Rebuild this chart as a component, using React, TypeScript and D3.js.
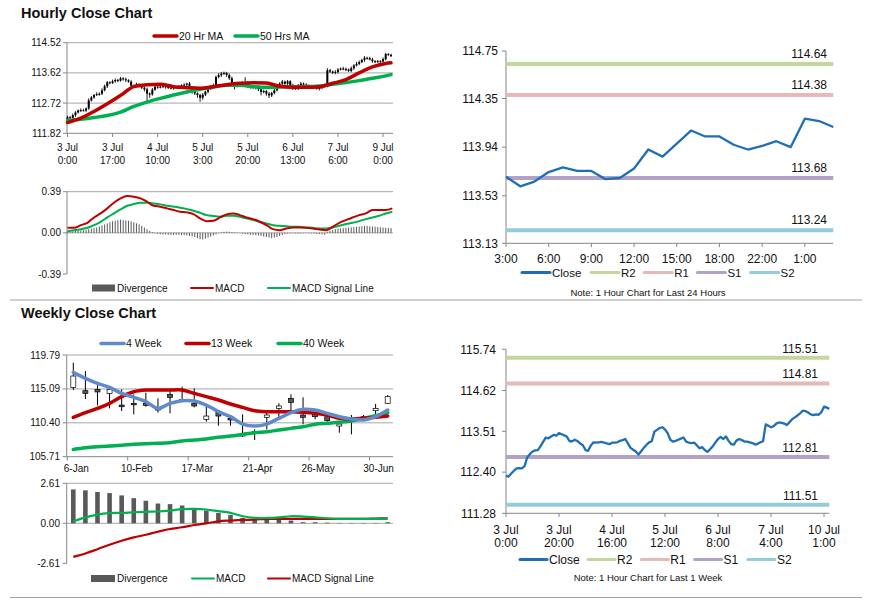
import React from 'react';
import * as d3 from 'd3';

const FONT = '"Liberation Sans", Arial, sans-serif';

// ---------- Hourly data (3 Jul 0:00 .. ) ----------
const hourlyFirstOpen = 112.24;
const hourlyClose = [
  112.30, 112.28, 112.36, 112.44, 112.50, 112.51, 112.50, 112.56, 112.80, 112.89,
  112.96, 112.99, 113.00, 113.10, 113.22, 113.34, 113.32, 113.37, 113.41, 113.39,
  113.46, 113.43, 113.40, 113.36, 113.24, 113.24, 113.28, 113.24, 113.18, 113.13,
  113.00, 112.98, 113.12, 113.21, 113.20, 113.21, 113.22, 113.20, 113.18, 113.16,
  113.20, 113.20, 113.21, 113.25, 113.27, 113.30, 113.18, 113.06, 113.01, 112.96,
  112.88, 112.97, 113.06, 113.14, 113.21, 113.24, 113.50, 113.55, 113.60, 113.62,
  113.56, 113.46, 113.28, 113.23, 113.25, 113.28, 113.31, 113.34, 113.23, 113.20,
  113.19, 113.20, 113.13, 113.05, 113.08, 113.00, 112.95, 113.02, 113.10, 113.20,
  113.30, 113.36, 113.30, 113.37, 113.25, 113.16, 113.15, 113.26, 113.30, 113.27,
  113.23, 113.23, 113.21, 113.19, 113.15, 113.17, 113.21, 113.24, 113.70, 113.66,
  113.62, 113.65, 113.72, 113.75, 113.74, 113.72, 113.68, 113.76, 113.84, 113.89,
  113.94, 114.00, 114.07, 114.06, 114.02, 113.97, 113.95, 113.97, 113.96, 114.03,
  114.18, 114.16, 114.12,
];
const hourlyWickUp = [
  0.04, 0.03, 0.05, 0.04, 0.03, 0.05, 0.04, 0.03, 0.06, 0.04,
  0.03, 0.05, 0.04, 0.06, 0.05, 0.04, 0.03, 0.05, 0.04, 0.03,
  0.04, 0.03, 0.05, 0.03, 0.04, 0.03, 0.05, 0.03, 0.04, 0.03,
  0.05, 0.04, 0.05, 0.03, 0.04, 0.03, 0.05, 0.04, 0.03, 0.10,
  0.04, 0.03, 0.05, 0.03, 0.04, 0.03, 0.05, 0.03, 0.04, 0.03,
  0.04, 0.05, 0.03, 0.04, 0.05, 0.06, 0.04, 0.06, 0.05, 0.04,
  0.03, 0.04, 0.05, 0.03, 0.04, 0.05, 0.06, 0.15, 0.04, 0.03,
  0.04, 0.03, 0.05, 0.03, 0.04, 0.03, 0.05, 0.04, 0.06, 0.05,
  0.04, 0.05, 0.03, 0.04, 0.03, 0.05, 0.04, 0.03, 0.05, 0.03,
  0.04, 0.05, 0.03, 0.04, 0.03, 0.04, 0.03, 0.04, 0.06, 0.04,
  0.03, 0.05, 0.04, 0.03, 0.05, 0.04, 0.03, 0.05, 0.04, 0.06,
  0.05, 0.04, 0.05, 0.03, 0.04, 0.05, 0.03, 0.04, 0.03, 0.05,
  0.04, 0.03, 0.03,
];
const hourlyWickDown = [
  0.03, 0.04, 0.03, 0.05, 0.03, 0.04, 0.03, 0.05, 0.04, 0.03,
  0.04, 0.03, 0.05, 0.04, 0.03, 0.05, 0.04, 0.03, 0.04, 0.05,
  0.03, 0.04, 0.05, 0.03, 0.06, 0.04, 0.03, 0.05, 0.04, 0.06,
  0.25, 0.10, 0.04, 0.03, 0.05, 0.04, 0.03, 0.05, 0.04, 0.03,
  0.04, 0.05, 0.03, 0.04, 0.03, 0.05, 0.04, 0.06, 0.05, 0.08,
  0.12, 0.06, 0.04, 0.05, 0.03, 0.04, 0.03, 0.04, 0.05, 0.04,
  0.06, 0.05, 0.08, 0.10, 0.04, 0.05, 0.03, 0.04, 0.06, 0.05,
  0.04, 0.06, 0.05, 0.10, 0.04, 0.06, 0.08, 0.05, 0.04, 0.03,
  0.04, 0.05, 0.08, 0.04, 0.06, 0.05, 0.03, 0.04, 0.05, 0.03,
  0.04, 0.03, 0.05, 0.04, 0.03, 0.05, 0.04, 0.03, 0.05, 0.04,
  0.03, 0.04, 0.05, 0.03, 0.04, 0.05, 0.03, 0.04, 0.05, 0.03,
  0.04, 0.03, 0.05, 0.04, 0.03, 0.05, 0.04, 0.03, 0.04, 0.03,
  0.04, 0.03, 0.03,
];
const hourlyLabels1 = ['3 Jul', '3 Jul', '4 Jul', '5 Jul', '5 Jul', '6 Jul', '7 Jul', '9 Jul'];
const hourlyLabels2 = ['0:00', '17:00', '10:00', '3:00', '20:00', '13:00', '6:00', '0:00'];
const hourlyLabelBars = [0, 17, 34, 51, 68, 85, 102, 119];
const hourlyTicks = [111.82, 112.72, 113.62, 114.52];

const hourlyMaBars = [0, 5, 10, 15, 20, 25, 30, 35, 40, 45, 50, 55, 60, 65, 70, 75, 80, 85, 90, 95, 100, 105, 110, 115, 120, 122];
const ma20Hr = [112.14, 112.27, 112.47, 112.70, 112.95, 113.21, 113.27, 113.28, 113.21, 113.18, 113.16, 113.21, 113.27, 113.31, 113.33, 113.32, 113.22, 113.19, 113.19, 113.21, 113.31, 113.42, 113.62, 113.80, 113.90, 113.92];
const ma50Hr = [112.20, 112.24, 112.29, 112.35, 112.45, 112.62, 112.75, 112.86, 112.96, 113.05, 113.13, 113.20, 113.25, 113.25, 113.21, 113.19, 113.20, 113.21, 113.21, 113.23, 113.28, 113.33, 113.39, 113.46, 113.53, 113.57];

// Hourly MACD (50 samples across the period)
const hourlyMacd = [0.048, 0.048, 0.073, 0.095, 0.146, 0.184, 0.232, 0.286, 0.327, 0.349, 0.343, 0.327, 0.295, 0.257, 0.248, 0.232, 0.216, 0.200, 0.194, 0.178, 0.137, 0.111, 0.114, 0.146, 0.175, 0.184, 0.168, 0.146, 0.130, 0.105, 0.073, 0.035, 0.025, 0.041, 0.051, 0.051, 0.048, 0.041, 0.032, 0.025, 0.057, 0.095, 0.121, 0.146, 0.168, 0.184, 0.216, 0.216, 0.216, 0.232];
const hourlySignal = [0.016, 0.025, 0.035, 0.048, 0.073, 0.105, 0.146, 0.184, 0.222, 0.257, 0.273, 0.286, 0.286, 0.279, 0.270, 0.257, 0.248, 0.238, 0.225, 0.210, 0.190, 0.168, 0.159, 0.152, 0.162, 0.162, 0.152, 0.137, 0.121, 0.105, 0.089, 0.073, 0.067, 0.063, 0.057, 0.057, 0.051, 0.048, 0.041, 0.041, 0.051, 0.067, 0.083, 0.095, 0.111, 0.130, 0.146, 0.162, 0.184, 0.200];
const hourlyDivergence = [
  0.010, 0.012, 0.015, 0.018, 0.020, 0.022, 0.025, 0.030, 0.035, 0.040,
  0.045, 0.050, 0.060, 0.070, 0.080, 0.090, 0.100, 0.110, 0.115, 0.120,
  0.125, 0.120, 0.118, 0.115, 0.110, 0.100, 0.090, 0.080, 0.065, 0.050,
  0.035, 0.020, 0.008, -0.005, -0.010, -0.012, -0.015, -0.015, -0.018, -0.020,
  -0.020, -0.018, -0.020, -0.020, -0.022, -0.025, -0.030, -0.035, -0.040, -0.050,
  -0.060, -0.062, -0.055, -0.045, -0.035, -0.025, -0.015, -0.005, 0.005, 0.010,
  0.012, 0.010, 0.008, 0.005, 0.003, -0.003, -0.008, -0.012, -0.015, -0.018,
  -0.020, -0.022, -0.025, -0.030, -0.035, -0.040, -0.045, -0.050, -0.045, -0.040,
  -0.030, -0.020, -0.012, -0.008, -0.005, -0.004, -0.006, -0.008, -0.006, -0.004,
  -0.003, -0.004, -0.006, -0.008, -0.010, -0.012, -0.015, -0.018, 0.010, 0.020,
  0.028, 0.035, 0.040, 0.042, 0.045, 0.048, 0.050, 0.052, 0.055, 0.058,
  0.060, 0.062, 0.065, 0.065, 0.062, 0.060, 0.058, 0.055, 0.052, 0.050,
  0.048, 0.045, 0.045,
];
const hourlyMacdTicks = [-0.39, 0.0, 0.39];

// ---------- Last 24 hours ----------
const dayClose = [113.69, 113.61, 113.65, 113.73, 113.77, 113.74, 113.74, 113.67, 113.68, 113.76, 113.92, 113.86, 113.97, 114.08, 114.03, 114.03, 113.96, 113.92, 113.95, 113.99, 113.94, 114.18, 114.16, 114.11];
const dayLabels = ['3:00', '6:00', '9:00', '12:00', '15:00', '18:00', '22:00', '1:00'];
const dayLabelIdx = [0, 3, 6, 9, 12, 15, 18, 21];
const dayTicks = [113.13, 113.53, 113.94, 114.35, 114.75];
const dayLevels = [114.64, 114.38, 113.68, 113.24]; // R2, R1, S1, S2

// ---------- Last 1 week (hourly) ----------
const weekLabels1 = ['3 Jul', '3 Jul', '4 Jul', '5 Jul', '6 Jul', '7 Jul', '10 Jul'];
const weekLabels2 = ['0:00', '20:00', '16:00', '12:00', '8:00', '4:00', '1:00'];
const weekLabelBars = [0, 20, 40, 60, 80, 100, 120];
const weekTicks = [111.28, 112.40, 113.51, 114.62, 115.74];
const weekLevels = [115.51, 114.81, 112.81, 111.51];

const levelNames = ['R2', 'R1', 'S1', 'S2'];
const levelColors = ['#c3d69b', '#e6b9b8', '#b3a2c7', '#93cddd'];

// ---------- Weekly data ----------
const weeklyLabels = ['6-Jan', '10-Feb', '17-Mar', '21-Apr', '26-May', '30-Jun'];
const weeklyLabelIdx = [0, 5, 10, 15, 20, 25];
const weeklyOpen = [115.31, 114.85, 115.03, 114.48, 112.86, 113.10, 113.10, 112.54, 114.34, 113.60, 113.10, 110.88, 111.85, 111.02, 108.57, 109.05, 111.16, 112.40, 113.79, 111.48, 111.57, 111.25, 109.96, 111.00, 111.25, 112.08, 113.10];
const weeklyClose = [116.88, 114.48, 114.67, 115.03, 112.63, 112.91, 112.82, 112.17, 113.93, 113.52, 112.73, 111.34, 111.34, 110.79, 108.94, 109.20, 111.48, 112.73, 113.23, 111.16, 111.25, 110.70, 110.23, 111.05, 111.02, 112.40, 114.02];
const weeklyHigh = [118.73, 117.57, 115.63, 115.17, 115.03, 114.34, 114.57, 113.79, 114.94, 115.40, 115.17, 112.86, 112.17, 111.48, 111.57, 109.49, 111.94, 113.10, 114.34, 113.93, 111.94, 111.71, 110.70, 111.48, 111.48, 113.00, 114.25];
const weeklyLow = [114.94, 113.70, 112.82, 112.40, 112.03, 111.57, 112.63, 111.80, 111.71, 113.52, 112.54, 110.56, 110.00, 110.00, 108.48, 108.02, 109.49, 111.16, 112.17, 110.19, 110.88, 110.56, 109.03, 108.80, 110.79, 111.48, 113.00];
const ma4Week = [117.39, 116.56, 115.87, 115.31, 114.48, 113.93, 113.33, 112.40, 113.10, 113.47, 113.42, 112.86, 111.94, 111.25, 110.23, 109.96, 110.23, 111.02, 111.80, 112.27, 112.17, 111.71, 111.25, 110.93, 110.79, 111.25, 112.17];
const ma13Week = [111.16, 111.80, 112.40, 113.10, 114.02, 114.71, 114.94, 114.94, 114.94, 114.94, 114.48, 114.02, 113.56, 113.00, 112.54, 112.08, 111.94, 111.94, 111.94, 111.85, 111.71, 111.48, 111.02, 110.93, 111.02, 111.16, 111.34];
const ma40Week = [106.72, 106.95, 107.09, 107.19, 107.28, 107.42, 107.51, 107.56, 107.65, 107.88, 108.02, 108.16, 108.39, 108.57, 108.80, 109.03, 109.17, 109.40, 109.63, 109.86, 110.19, 110.33, 110.47, 110.65, 111.02, 111.39, 111.80];
const weeklyTicks = [105.71, 110.40, 115.09, 119.79];
const weeklyDivergence = [2.21, 2.15, 2.04, 1.97, 1.82, 1.64, 1.47, 1.29, 1.25, 1.16, 0.94, 0.83, 0.68, 0.55, 0.35, 0.29, 0.22, 0.22, 0.18, 0.07, 0.07, 0.04, 0.02, 0.02, 0.02, 0.02, 0.07];
const weeklyMacd = [0.13, 0.39, 0.57, 0.66, 0.68, 0.72, 0.75, 0.77, 0.83, 0.92, 0.94, 0.90, 0.79, 0.68, 0.46, 0.35, 0.35, 0.39, 0.46, 0.44, 0.39, 0.33, 0.29, 0.29, 0.29, 0.29, 0.29];
const weeklySignal = [-2.19, -1.97, -1.69, -1.40, -1.14, -0.92, -0.75, -0.55, -0.37, -0.26, -0.11, 0.0, 0.13, 0.18, 0.22, 0.24, 0.29, 0.29, 0.29, 0.29, 0.29, 0.29, 0.29, 0.29, 0.29, 0.31, 0.33];
const weeklyMacdTicks = [-2.61, 0.0, 2.61];

const RED = '#c00000';
const GREEN = '#00b050';
const BLUE = '#5f8bcb';
const CLOSE = '#1f6fb8';
const GRID = '#a6a6a6';
const AXIS = '#868686';

function YLabels({ scale, ticks, x, size, axisX }: any) {
  return (
    <g>
      {ticks.map((t: number, i: number) => (
        <g key={i}>
          <line x1={axisX - 4} x2={axisX} y1={scale(t)} y2={scale(t)} stroke={AXIS} />
          <text x={x} y={scale(t)} dy="0.35em" textAnchor="end" fontSize={size} fill="#111">
            {t.toFixed(2)}
          </text>
        </g>
      ))}
    </g>
  );
}

function LineLegend({ x, y, color, label, size, w = 23, sw = 3.5 }: any) {
  return (
    <g>
      <line x1={x} x2={x + w} y1={y} y2={y} stroke={color} strokeWidth={sw} strokeLinecap="round" />
      <text x={x + w + 2} y={y} dy="0.35em" fontSize={size} fill="#111">{label}</text>
    </g>
  );
}

export default function App() {
  // ---------- Hourly candles panel ----------
  const hx = d3.scaleLinear().domain([0, 122]).range([67.5, 391]);
  const hy = d3.scaleLinear().domain([111.82, 114.52]).range([133.3, 42.7]);
  const maLine = (vals: number[]) =>
    d3.line<number>().x((_, i) => hx(hourlyMaBars[i])).y((d) => hy(d)).curve(d3.curveMonotoneX)(vals) || '';

  const hmY = d3.scaleLinear().domain([-0.39, 0.39]).range([274, 191.7]);
  const hmX = d3.scaleLinear().domain([0, 49]).range([hx(0), hx(122.5)]);
  const macdLine = (vals: number[]) =>
    d3.line<number>().x((_, i) => hmX(i)).y((d) => hmY(d)).curve(d3.curveMonotoneX)(vals) || '';

  // ---------- 24h ----------
  const dx = d3.scaleLinear().domain([0, 23]).range([506, 833.3]);
  const dy = d3.scaleLinear().domain([113.13, 114.75]).range([243.3, 51]);
  const dayPath = d3.line<number>().x((_, i) => dx(i)).y((d) => dy(d))(dayClose) || '';

  // ---------- 1 week ----------
  const wx = d3.scaleLinear().domain([0, 122]).range([506, 829.3]);
  const wy = d3.scaleLinear().domain([111.28, 115.74]).range([513.3, 349.3]);
  const weekPath = d3.line<number>().x((_, i) => wx(i)).y((d) => wy(d))(hourlyClose) || '';

  // ---------- weekly ----------
  const kx = d3.scaleLinear().domain([0, 26]).range([73.3, 387.7]);
  const ky = d3.scaleLinear().domain([105.71, 119.79]).range([456.7, 355]);
  const kStep = kx(1) - kx(0);
  const kLine = (vals: number[], yS: any) =>
    d3.line<number>().x((_, i) => kx(i)).y((d) => yS(d)).curve(d3.curveCatmullRom.alpha(0.5))(vals) || '';
  const kmY = d3.scaleLinear().domain([-2.61, 2.61]).range([563.3, 483.3]);

  return (
    <svg width={873} height={601} style={{ position: 'absolute', left: 0, top: 0 }} fontFamily={FONT}>
      <rect x={0} y={0} width={873} height={601} fill="#fff" />

      {/* ================= HOURLY ================= */}
      <text x={21} y={18} fontSize={14.5} fontWeight="bold" fill="#111">Hourly Close Chart</text>

      {/* legend */}
      <LineLegend x={154} y={36} color={RED} label="20 Hr MA" size={10.5} />
      <LineLegend x={235} y={36} color={GREEN} label="50 Hrs MA" size={10.5} />

      {/* grid */}
      {hourlyTicks.slice(1).map((t, i) => (
        <line key={i} x1={67} x2={393} y1={hy(t)} y2={hy(t)} stroke={GRID} />
      ))}
      <line x1={67} x2={393} y1={hy(111.82)} y2={hy(111.82)} stroke={AXIS} />
      <line x1={67} x2={67} y1={hy(114.52)} y2={hy(111.82)} stroke={AXIS} />
      <YLabels scale={hy} ticks={hourlyTicks} x={61} size={10} axisX={67} />
      {hourlyLabelBars.map((b, i) => (
        <g key={i}>
          <line x1={hx(b)} x2={hx(b)} y1={133.3} y2={137} stroke={AXIS} />
          <text x={hx(b)} y={151} textAnchor="middle" fontSize={10} fill="#111">{hourlyLabels1[i]}</text>
          <text x={hx(b)} y={164} textAnchor="middle" fontSize={10} fill="#111">{hourlyLabels2[i]}</text>
        </g>
      ))}

      {/* candles */}
      {hourlyClose.map((c, i) => {
        const o = i === 0 ? hourlyFirstOpen : hourlyClose[i - 1];
        const hi = Math.max(o, c) + hourlyWickUp[i];
        const lo = Math.min(o, c) - hourlyWickDown[i];
        const x = hx(i);
        const top = hy(Math.max(o, c));
        const bot = hy(Math.min(o, c));
        return (
          <g key={i}>
            <line x1={x} x2={x} y1={hy(hi)} y2={hy(lo)} stroke="#000" strokeWidth={0.9} />
            <rect x={x - 1} y={top} width={2} height={Math.max(1, bot - top)} fill="#000" />
          </g>
        );
      })}
      <path d={maLine(ma50Hr)} fill="none" stroke={GREEN} strokeWidth={3.5} strokeLinecap="round" />
      <path d={maLine(ma20Hr)} fill="none" stroke={RED} strokeWidth={3.5} strokeLinecap="round" />

      {/* hourly MACD */}
      <line x1={67} x2={393} y1={hmY(0.39)} y2={hmY(0.39)} stroke={GRID} />
      <line x1={67} x2={393} y1={hmY(0)} y2={hmY(0)} stroke={GRID} />
      <line x1={67} x2={67} y1={hmY(0.39)} y2={hmY(-0.39)} stroke={AXIS} />
      <YLabels scale={hmY} ticks={hourlyMacdTicks} x={61} size={10} axisX={67} />
      {hourlyDivergence.map((v, i) => (
        <line key={i} x1={hx(i)} x2={hx(i)} y1={hmY(0)} y2={hmY(v)} stroke="#5a5a5a" strokeWidth={1} />
      ))}
      <path d={macdLine(hourlySignal)} fill="none" stroke={GREEN} strokeWidth={2} />
      <path d={macdLine(hourlyMacd)} fill="none" stroke={RED} strokeWidth={2} />
      <rect x={92} y={284.5} width={23} height={7} fill="#595959" />
      <text x={117} y={288} dy="0.35em" fontSize={10} fill="#111">Divergence</text>
      <LineLegend x={191} y={288} color={RED} label="MACD" size={10} w={22} sw={2} />
      <LineLegend x={268} y={288} color={GREEN} label="MACD Signal Line" size={10} w={22} sw={2} />

      {/* ================= 24 HOURS ================= */}
      <line x1={506} x2={506} y1={51} y2={243.3} stroke={AXIS} />
      <line x1={506} x2={833.3} y1={243.3} y2={243.3} stroke={AXIS} />
      <YLabels scale={dy} ticks={dayTicks} x={498} size={12} axisX={506} />
      {dayLabelIdx.map((b, i) => (
        <g key={i}>
          <line x1={dx(b)} x2={dx(b)} y1={243.3} y2={247} stroke={AXIS} />
          <text x={dx(b)} y={262.5} textAnchor="middle" fontSize={12} fill="#111">{dayLabels[i]}</text>
        </g>
      ))}
      {dayLevels.map((v, i) => (
        <g key={i}>
          <line x1={506} x2={833.3} y1={dy(v)} y2={dy(v)} stroke={levelColors[i]} strokeWidth={4} />
          <text x={827} y={dy(v) - 6} textAnchor="end" fontSize={12} fill="#111">{v.toFixed(2)}</text>
        </g>
      ))}
      <path d={dayPath} fill="none" stroke={CLOSE} strokeWidth={2.3} strokeLinejoin="round" />
      <LineLegend x={522} y={272.5} color={CLOSE} label="Close" size={11.5} w={28} sw={3} />
      {levelNames.map((n, i) => (
        <LineLegend key={i} x={591 + i * 53.2} y={272.5} color={levelColors[i]} label={n} size={11.5} w={28} sw={3} />
      ))}
      <text x={648} y={296} textAnchor="middle" fontSize={9.5} fill="#111">Note: 1 Hour Chart for Last 24 Hours</text>

      {/* separator */}
      <line x1={10} x2={862} y1={300} y2={300} stroke="#a0a0a0" />

      {/* ================= WEEKLY ================= */}
      <text x={21} y={318} fontSize={14.5} fontWeight="bold" fill="#111">Weekly Close Chart</text>
      <LineLegend x={101} y={343.5} color={BLUE} label="4 Week" size={10.5} />
      <LineLegend x={186} y={343.5} color={RED} label="13 Week" size={10.5} />
      <LineLegend x={278} y={343.5} color={GREEN} label="40 Week" size={10.5} />

      {weeklyTicks.slice(1).map((t, i) => (
        <line key={i} x1={66.7} x2={393} y1={ky(t)} y2={ky(t)} stroke={GRID} />
      ))}
      <line x1={66.7} x2={393} y1={ky(105.71)} y2={ky(105.71)} stroke={AXIS} />
      <line x1={66.7} x2={66.7} y1={ky(119.79)} y2={ky(105.71)} stroke={AXIS} />
      <YLabels scale={ky} ticks={weeklyTicks} x={60} size={10} axisX={66.7} />
      {weeklyLabelIdx.map((b, i) => (
        <g key={i}>
          <line x1={kx(b) - kStep / 2} x2={kx(b) - kStep / 2} y1={456.7} y2={460.5} stroke={AXIS} />
          <text x={kx(b) + 3} y={472} textAnchor="middle" fontSize={10} fill="#111">{weeklyLabels[i]}</text>
        </g>
      ))}
      {weeklyClose.map((c, i) => {
        const o = weeklyOpen[i];
        const x = kx(i);
        const top = ky(Math.max(o, c));
        const bot = ky(Math.min(o, c));
        return (
          <g key={i}>
            <line x1={x} x2={x} y1={ky(weeklyHigh[i])} y2={ky(weeklyLow[i])} stroke="#000" strokeWidth={1} />
            <rect x={x - 2.5} y={top} width={5} height={Math.max(1.5, bot - top)}
              fill={c >= o ? '#fff' : '#595959'} stroke="#000" strokeWidth={0.7} />
          </g>
        );
      })}
      <path d={kLine(ma40Week, ky)} fill="none" stroke={GREEN} strokeWidth={3.5} strokeLinecap="round" />
      <path d={kLine(ma13Week, ky)} fill="none" stroke={RED} strokeWidth={3.5} strokeLinecap="round" />
      <path d={kLine(ma4Week, ky)} fill="none" stroke={BLUE} strokeWidth={3.5} strokeLinecap="round" />

      {/* weekly MACD */}
      <line x1={66.7} x2={393} y1={kmY(2.61)} y2={kmY(2.61)} stroke={GRID} />
      <line x1={66.7} x2={393} y1={kmY(0)} y2={kmY(0)} stroke={GRID} />
      <line x1={66.7} x2={66.7} y1={kmY(2.61)} y2={kmY(-2.61)} stroke={AXIS} />
      <YLabels scale={kmY} ticks={weeklyMacdTicks} x={60} size={10} axisX={66.7} />
      {weeklyDivergence.map((v, i) => (
        <rect key={i} x={kx(i) - 2.3} y={Math.min(kmY(v), kmY(0))} width={4.6}
          height={Math.abs(kmY(0) - kmY(v))} fill="#595959" />
      ))}
      <path d={kLine(weeklySignal, kmY)} fill="none" stroke={RED} strokeWidth={2.2} />
      <path d={kLine(weeklyMacd, kmY)} fill="none" stroke={GREEN} strokeWidth={2.2} />
      <rect x={91} y={575} width={24} height={7} fill="#595959" />
      <text x={117} y={578.5} dy="0.35em" fontSize={10} fill="#111">Divergence</text>
      <LineLegend x={192} y={578.5} color={GREEN} label="MACD" size={10} w={22} sw={2} />
      <LineLegend x={268} y={578.5} color={RED} label="MACD Signal Line" size={10} w={22} sw={2} />

      {/* ================= 1 WEEK ================= */}
      <line x1={506} x2={506} y1={349.3} y2={513.3} stroke={AXIS} />
      <line x1={506} x2={829.3} y1={513.3} y2={513.3} stroke={AXIS} />
      <YLabels scale={wy} ticks={weekTicks} x={496} size={12} axisX={506} />
      {weekLabelBars.map((b, i) => (
        <g key={i}>
          <line x1={wx(b)} x2={wx(b)} y1={513.3} y2={517} stroke={AXIS} />
          <text x={wx(b)} y={533.5} textAnchor="middle" fontSize={12} fill="#111">{weekLabels1[i]}</text>
          <text x={wx(b)} y={546.5} textAnchor="middle" fontSize={12} fill="#111">{weekLabels2[i]}</text>
        </g>
      ))}
      {weekLevels.map((v, i) => (
        <g key={i}>
          <line x1={506} x2={829.3} y1={wy(v)} y2={wy(v)} stroke={levelColors[i]} strokeWidth={4} />
          <text x={818} y={wy(v) - 5} textAnchor="end" fontSize={12} fill="#111">{v.toFixed(2)}</text>
        </g>
      ))}
      <path d={weekPath} fill="none" stroke={CLOSE} strokeWidth={2.3} strokeLinejoin="round" />
      <LineLegend x={520} y={559.5} color={CLOSE} label="Close" size={12} w={27} sw={3} />
      {levelNames.map((n, i) => (
        <LineLegend key={i} x={588 + i * 53.3} y={559.5} color={levelColors[i]} label={n} size={12} w={27} sw={3} />
      ))}
      <text x={648} y={581} textAnchor="middle" fontSize={9.5} fill="#111">Note: 1 Hour Chart for Last 1 Week</text>

      <line x1={10} x2={862} y1={597.5} y2={597.5} stroke="#a0a0a0" />
    </svg>
  );
}
